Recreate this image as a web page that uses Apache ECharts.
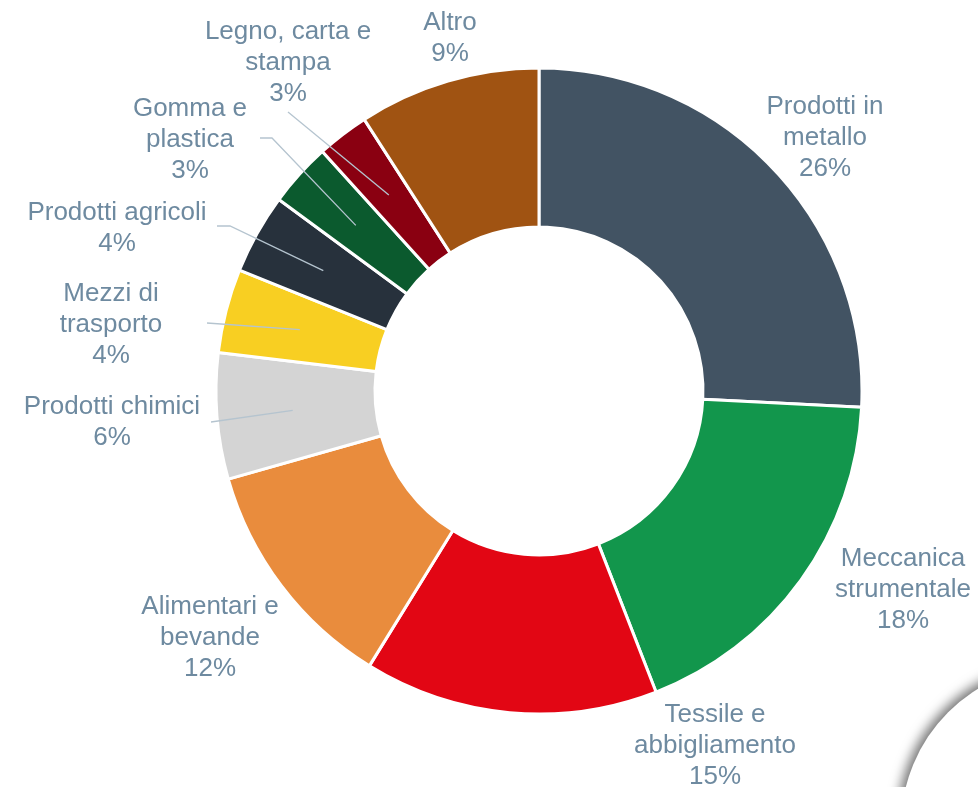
<!DOCTYPE html>
<html>
<head>
<meta charset="utf-8">
<script src="https://cdn.jsdelivr.net/npm/echarts@6/dist/echarts.min.js"></script>
<style>
  html, body { margin: 0; padding: 0; background: #fff; }
  #chart { width: 978px; height: 787px; }
</style>
</head>
<body>
<div id="chart"></div>
<script>
// Settori (testo come appare nelle etichette)
const sectors = [
    "Prodotti in\nmetallo",
    "Meccanica\nstrumentale",
    "Tessile e\nabbigliamento",
    "Alimentari e\nbevande",
    "Prodotti chimici",
    "Mezzi di\ntrasporto",
    "Prodotti agricoli",
    "Gomma e\nplastica",
    "Legno, carta e\nstampa",
    "Altro"
];

const shares = [25.8, 18.3, 14.7, 11.8, 6.3, 4.2, 4.0, 3.2, 2.6, 9.1];

const sectorColors = [
    "#425363", "#12964C", "#E20614", "#E98C3D", "#D4D4D4",
    "#F8CF22", "#27313C", "#0B5A2E", "#8A0011", "#A05312"
];

document.addEventListener("DOMContentLoaded", function () {
    const chart = echarts.init(document.getElementById("chart"));

    const cx = 539, cy = 391; // centro della ciambella
    const leaderStartR = 247; // le linee partono a metà anello

    // posizione delle etichette (centro del testo) e punti finali delle linee guida
    const labelSpots = [
        { x: 825, y: 138 },
        { x: 903, y: 590 },
        { x: 715, y: 746 },
        { x: 210, y: 638 },
        { x: 112, y: 422, line: [[211, 422]] },
        { x: 111, y: 325, line: [[207, 323]] },
        { x: 117, y: 228, line: [[230, 226], [217, 226]] },
        { x: 190, y: 140, line: [[272, 138], [260, 138]] },
        { x: 288, y: 63, line: [[288, 112]] },
        { x: 450, y: 38 }
    ];

    // angolo medio di ogni fetta (partenza in alto, senso orario)
    const total = shares.reduce((a, b) => a + b, 0);
    let acc = 0;
    const midAngles = shares.map((v) => {
        const a = (acc + v / 2) / total * 2 * Math.PI;
        acc += v;
        return a;
    });

    const pieData = sectors.map((name, i) => ({
        name: name,
        value: shares[i],
        itemStyle: { color: sectorColors[i] }
    }));

    // linee guida disegnate sopra le fette
    const leaderLines = [];
    labelSpots.forEach((spot, i) => {
        if (!spot.line) return;
        const a = midAngles[i];
        const start = [cx + Math.sin(a) * leaderStartR, cy - Math.cos(a) * leaderStartR];
        leaderLines.push({
            type: "polyline",
            shape: { points: [start].concat(spot.line) },
            style: { stroke: "#B5C4CF", lineWidth: 1.3, fill: null },
            silent: true,
            z: 20
        });
    });

    chart.setOption({
        animation: false,
        series: [
            {
                type: "pie",
                center: [cx, cy],
                radius: [164, 323],
                startAngle: 90,
                clockwise: true,
                avoidLabelOverlap: false,
                percentPrecision: 0,
                data: pieData,
                itemStyle: {
                    borderColor: "#fff",
                    borderWidth: 3
                },
                label: {
                    show: true,
                    position: "outside",
                    formatter: "{b}\n{d}%",
                    fontFamily: "Liberation Sans",
                    fontSize: 26,
                    lineHeight: 31,
                    color: "#6E8AA0",
                    align: "center"
                },
                labelLine: { show: false },
                labelLayout: function (params) {
                    const spot = labelSpots[params.dataIndex];
                    return {
                        x: spot.x,
                        y: spot.y,
                        align: "center",
                        verticalAlign: "middle"
                    };
                }
            }
        ],
        graphic: leaderLines.concat([
            {
                type: "circle",
                shape: { cx: 1062, cy: 826, r: 161 },
                style: {
                    fill: "#fff",
                    shadowBlur: 12,
                    shadowColor: "rgba(0,0,0,0.55)",
                    shadowOffsetX: -4,
                    shadowOffsetY: -3
                },
                z: 10
            }
        ])
    });
});
</script>
</body>
</html>
